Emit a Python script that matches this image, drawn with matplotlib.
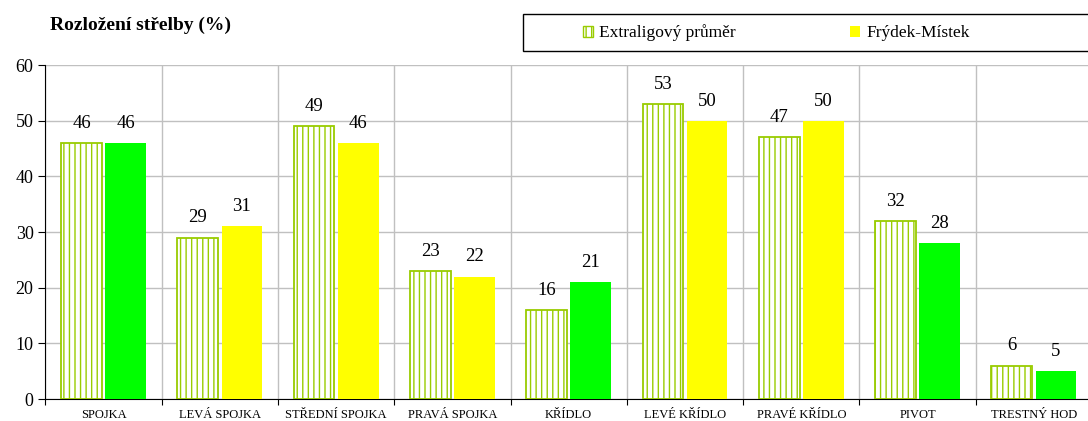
import matplotlib.pyplot as plt
import numpy as np

plt.rcParams['font.family'] = ['Liberation Serif', 'DejaVu Serif']

kategorie = ['SPOJKA', 'LEVÁ SPOJKA', 'STŘEDNÍ SPOJKA', 'PRAVÁ SPOJKA', 'KŘÍDLO',
             'LEVÉ KŘÍDLO', 'PRAVÉ KŘÍDLO', 'PIVOT', 'TRESTNÝ HOD']
extraliga = [46, 29, 49, 23, 16, 53, 47, 32, 6]
frydek = [46, 31, 46, 22, 21, 50, 50, 28, 5]
barvy_fm = ['#00FF00', '#FFFF00', '#FFFF00', '#FFFF00', '#00FF00',
            '#FFFF00', '#FFFF00', '#00FF00', '#00FF00']

fig = plt.figure(figsize=(10.88, 4.21), dpi=100)
# osa presahuje pravy okraj obrazku (jako v originale)
ax = fig.add_axes([45.4 / 1088, 22 / 421, 1046.6 / 1088, 334 / 421])

x = np.arange(len(kategorie))
w = 0.35
b1 = ax.bar(x - 0.19, extraliga, w, facecolor='white', edgecolor='#99CC00',
            hatch='|||', linewidth=1.3, label='Extraligový průměr', zorder=3)
b2 = ax.bar(x + 0.19, frydek, w, color=barvy_fm, edgecolor='none',
            label='Frýdek-Místek', zorder=3)

for bars, vals in ((b1, extraliga), (b2, frydek)):
    for r, v in zip(bars, vals):
        ax.annotate(str(v), xy=(r.get_x() + r.get_width() / 2, v), xytext=(0, 8),
                    textcoords='offset points', ha='center', va='bottom', fontsize=13.5)

ax.set_xlim(-0.5, len(kategorie) - 0.5)
ax.set_ylim(0, 60)
ax.set_yticks(range(0, 61, 10))
ax.tick_params(axis='y', labelsize=13, length=5, direction='out')

# hranice kategorii jako tiky a svisla mrizka
ax.set_xticks(np.arange(-0.5, len(kategorie)), minor=False)
ax.set_xticklabels([])
ax.set_xticks(x, minor=True)
ax.set_xticklabels(kategorie, minor=True, fontsize=9)
ax.tick_params(axis='x', which='major', length=4, direction='out')
ax.tick_params(axis='x', which='minor', length=0, pad=7)

ax.grid(True, which='major', color='#C0C0C0', linewidth=1, zorder=0)
ax.set_axisbelow(True)
for s in ['top', 'right']:
    ax.spines[s].set_visible(False)

fig.text(50 / 1088, 1 - 25 / 421, 'Rozložení střelby (%)', fontsize=14, fontweight='bold',
         ha='left', va='center')

# ram legendy
ram = plt.Rectangle((523 / 1088, 1 - 51 / 421), 570 / 1088, 37 / 421,
                    transform=fig.transFigure, facecolor='white', edgecolor='black',
                    linewidth=1, zorder=5)
fig.patches.append(ram)

h1 = plt.Rectangle((0, 0), 1, 1, facecolor='white', edgecolor='#99CC00', hatch='|||')
h2 = plt.Rectangle((0, 0), 1, 1, facecolor='#FFFF00', edgecolor='none')
leg = fig.legend([h1, h2], ['Extraligový průměr', 'Frýdek-Místek'], ncol=2,
                 loc='center left', bbox_to_anchor=(583 / 1088, 1 - 33 / 421),
                 fontsize=12.5, frameon=False, handlelength=0.58, handleheight=0.58,
                 handletextpad=0.35, columnspacing=6.6, borderpad=0, borderaxespad=0)
leg.set_zorder(6)

plt.savefig('out.png', dpi=100)
